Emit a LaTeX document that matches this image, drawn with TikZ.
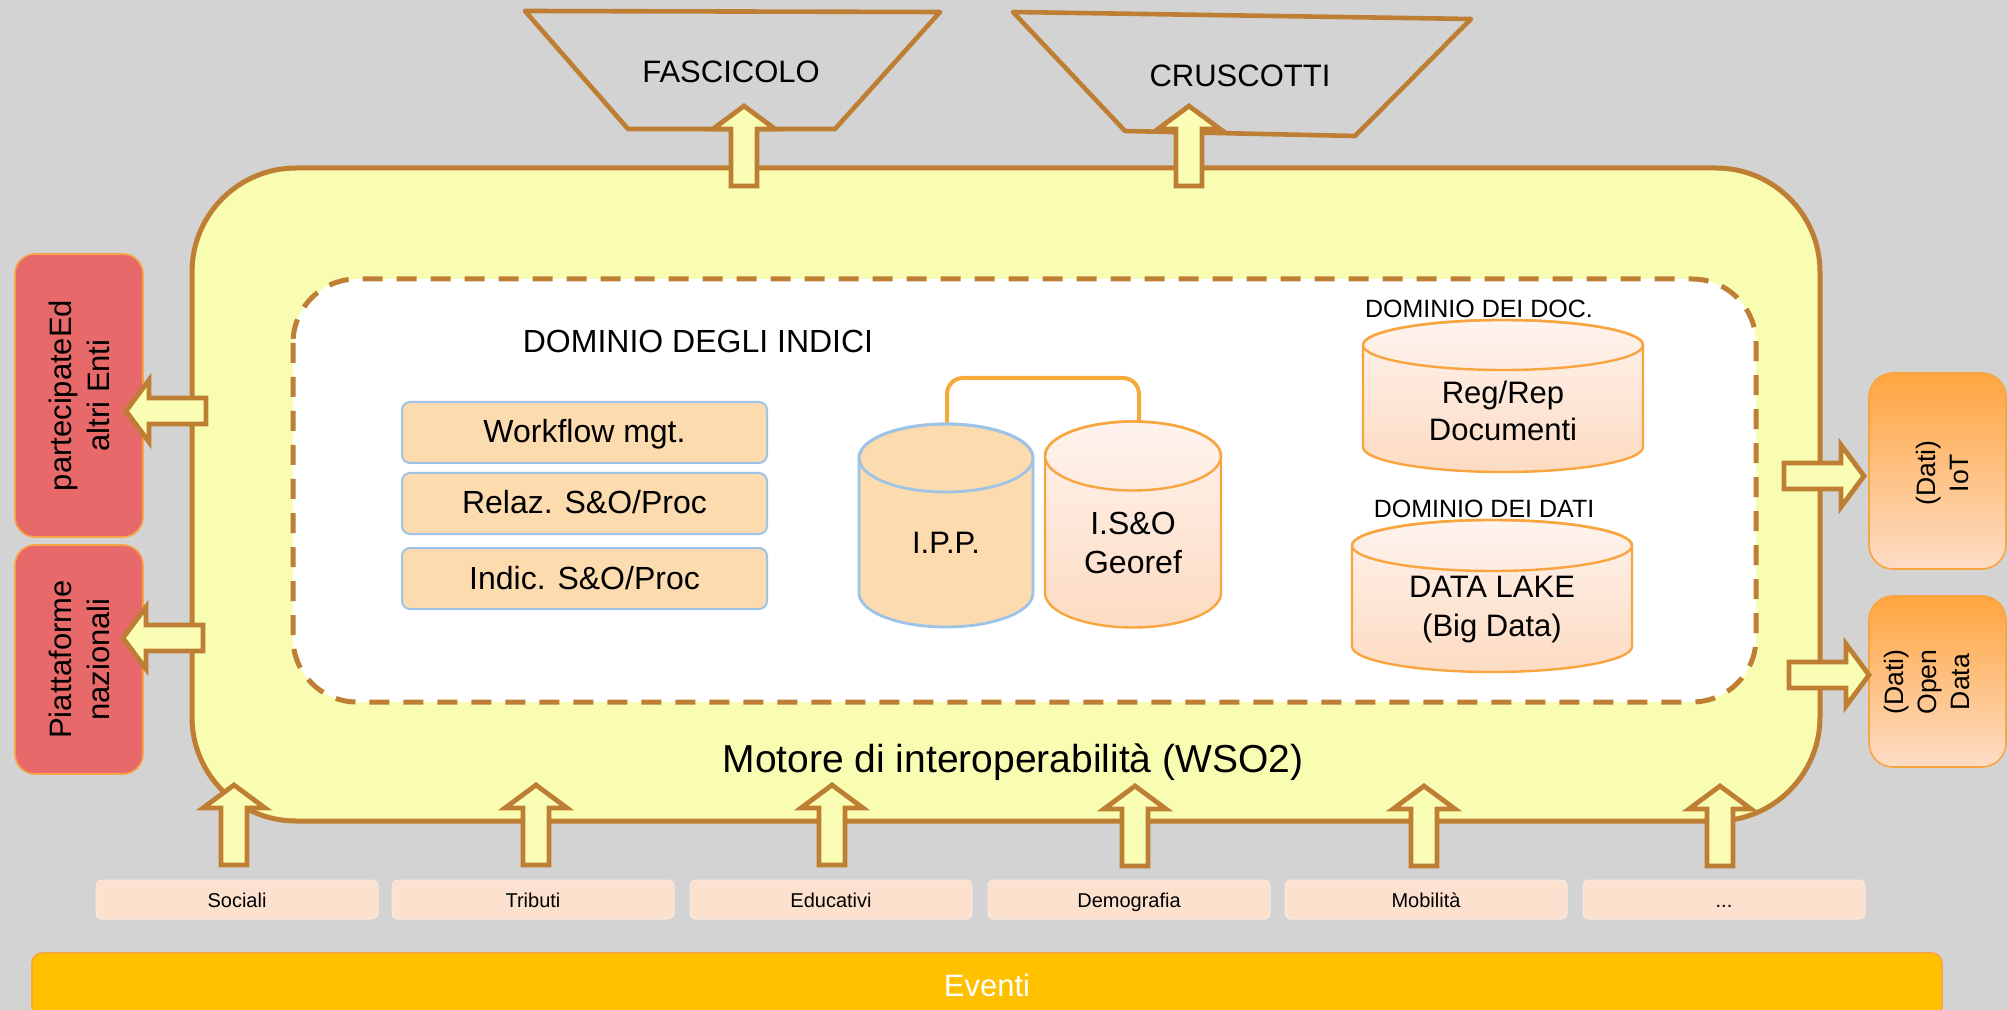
\documentclass[tikz,border=0pt]{standalone}
\usepackage{fontspec}
\setmainfont{Liberation Sans}
\definecolor{bgc}{HTML}{D3D3D3}
\definecolor{brn}{HTML}{BE7E33}
\definecolor{yel}{HTML}{F8FDB2}
\definecolor{arrfill}{HTML}{F9FEB4}
\definecolor{redc}{HTML}{E8696A}
\definecolor{redbord}{HTML}{F7A444}
\definecolor{peach}{HTML}{FCDBAE}
\definecolor{bluebord}{HTML}{9DC3E6}
\definecolor{cyltop}{HTML}{FEF3EE}
\definecolor{cylbot}{HTML}{FDDBC2}
\definecolor{orbord}{HTML}{F8A540}
\definecolor{rbtop}{HTML}{FFA53F}
\definecolor{rbbot}{HTML}{FDDDC6}
\definecolor{catc}{HTML}{FDE1CF}
\definecolor{catbord}{HTML}{FBEADF}
\definecolor{evc}{HTML}{FFC000}
\definecolor{evbord}{HTML}{F6A93A}
\definecolor{connc}{HTML}{F9A83C}
% cylinder silhouette: #1 style, #2 cx, #3 top y, #4 bottom y, #5 rx, #6 ry
\newcommand\mycylbody[6]{%
  \path[#1] ({#2-#5},#3) -- ({#2-#5},#4)
    .. controls ({#2-#5},{#4+0.5523*#6}) and ({#2-0.5523*#5},{#4+#6}) .. (#2,{#4+#6})
    .. controls ({#2+0.5523*#5},{#4+#6}) and ({#2+#5},{#4+0.5523*#6}) .. ({#2+#5},#4)
    -- ({#2+#5},#3)
    .. controls ({#2+#5},{#3-0.5523*#6}) and ({#2+0.5523*#5},{#3-#6}) .. (#2,{#3-#6})
    .. controls ({#2-0.5523*#5},{#3-#6}) and ({#2-#5},{#3-0.5523*#6}) .. ({#2-#5},#3) -- cycle;}
\begin{document}
\begin{tikzpicture}[x=0.5pt,y=-0.5pt,
  mainbox/.style={draw=brn, line width=2.5pt, fill=yel, rounded corners=52pt},
  dashbox/.style={draw=brn, line width=2.5pt, fill=white, rounded corners=32pt, dash pattern=on 10pt off 7pt},
  trap/.style={draw=brn, line width=2.3pt, line join=round},
  arrst/.style={draw=brn, fill=arrfill, line width=2.4pt, line join=miter},
  blk/.pic={\draw[arrst] (-13,0) -- (-13,-57) -- (-31,-57) -- (0,-80) -- (31,-57) -- (13,-57) -- (13,0) -- cycle;},
  idxbox/.style={draw=bluebord, line width=1pt, fill=peach, rounded corners=4pt, minimum width=182.5pt, minimum height=30.5pt, inner sep=0pt, text height=11.5pt, text depth=1pt, font=\fontsize{16}{19}\selectfont},
  redbox/.style={draw=redbord, line width=0.8pt, fill=redc, rounded corners=10pt, rotate=90, minimum height=64pt, inner sep=0pt, align=center, font=\fontsize{15.5}{19}\selectfont},
  outbox/.style={draw=orbord, line width=0.8pt, top color=rbtop, bottom color=rbbot, rounded corners=12pt, minimum width=68.5pt, inner sep=0pt},
  outtxt/.style={rotate=90, align=center, inner sep=0pt, font=\fontsize{13.3}{16.5}\selectfont},
  catbox/.style={draw=catbord, line width=0.5pt, fill=catc, rounded corners=3pt, minimum width=141pt, minimum height=19.5pt, inner sep=0pt, text height=8.5pt, text depth=1pt, font=\fontsize{10}{12}\selectfont},
  lbl/.style={inner sep=0pt, align=center},
  cylblue/.style={draw=bluebord, line width=1.4pt, fill=peach},
  cylor/.style={draw=orbord, line width=1.2pt, top color=cyltop, bottom color=cylbot},
  conn/.style={draw=connc, line width=2pt, rounded corners=8pt}
]
\useasboundingbox (0,0) rectangle (2008,1010);
\clip (0,0) rectangle (2008,1010);
\fill[bgc] (0,0) rectangle (2008,1010);

% top trapezoids
\draw[trap] (525,11) -- (940,12) -- (835,129) -- (628,129) -- cycle;
\draw[trap] (1013,12) -- (1471,19) -- (1355,136) -- (1125,131) -- cycle;
\node[lbl, font=\fontsize{15.5}{18}\selectfont] (fasc) at (731,72) {FASCICOLO};
\node[lbl, font=\fontsize{15.5}{18}\selectfont] (crus) at (1240,76) {CRUSCOTTI};

% main box
\draw[mainbox] (192,168) rectangle (1820,821);
\node[lbl, font=\fontsize{19.5}{23}\selectfont] (motore) at (1013,762) {Motore di interoperabilità (WSO2)};

% inner dashed domain
\draw[dashbox] (293,279) rectangle (1756,702);
\node[lbl, font=\fontsize{16}{19}\selectfont] (dind) at (698,341) {DOMINIO DEGLI INDICI};

% index boxes
\node[idxbox] (wf) at (584.5,432.5) {Workflow mgt.};
\node[idxbox] (rel) at (584.5,503.5) {Relaz. S\&O/Proc};
\node[idxbox] (ind) at (584.5,578.5) {Indic. S\&O/Proc};

% connector between cylinders
\coordinate (ipptop) at (947,424);
\coordinate (isotop) at (1139,422);
\coordinate (bridge) at (1040,378);
\draw[conn] (ipptop) |- (bridge) -| (isotop);

% IPP cylinder
\mycylbody{cylblue}{946}{458}{593}{87}{34}
\draw[bluebord, line width=1.4pt] (946,458) ellipse [x radius=87, y radius=34];
\node[lbl, font=\fontsize{15.5}{19}\selectfont] (ipp) at (946,543) {I.P.P.};

% I.S&O cylinder
\mycylbody{cylor}{1133}{456}{593}{88}{34.5}
\draw[orbord, line width=1.2pt] (1133,456) ellipse [x radius=88, y radius=34.5];
\node[lbl, font=\fontsize{16}{19.5}\selectfont] (iso) at (1133,543) {I.S\&O\\Georef};

% documents domain
\node[lbl, font=\fontsize{12.5}{15}\selectfont] (ddoc) at (1479,309) {DOMINIO DEI DOC.};
\mycylbody{cylor}{1503}{345}{447}{140}{25}
\draw[orbord, line width=1.2pt] (1503,345) ellipse [x radius=140, y radius=25];
\node[lbl, font=\fontsize{15.5}{18.5}\selectfont] (regrep) at (1503,411) {Reg/Rep\\Documenti};

% data domain
\node[lbl, font=\fontsize{12.5}{15}\selectfont] (ddati) at (1484,509) {DOMINIO DEI DATI};
\mycylbody{cylor}{1492}{545.5}{646.5}{140}{25.5}
\draw[orbord, line width=1.2pt] (1492,545.5) ellipse [x radius=140, y radius=25.5];
\node[lbl, font=\fontsize{15.5}{19.5}\selectfont] (lake) at (1492,610) {DATA LAKE\\(Big Data)};

% left red boxes
\node[redbox, minimum width=141.5pt] (part) at (79,395.5) {partecipateEd\\altri Enti};
\node[redbox, minimum width=114.5pt] (piatt) at (79,659.5) {Piattaforme\\nazionali};

% right output boxes
\node[outbox, minimum height=98pt] (iot) at (1937.5,471) {};
\node[outtxt] (iott) at (1942,473) {(Dati)\\IoT};
\node[outbox, minimum height=85.5pt] (open) at (1937.5,681.5) {};
\node[outtxt] (opent) at (1927,682) {(Dati)\\Open\\Data};

% category boxes
\node[catbox] (c1) at (237,899.5) {Sociali};
\node[catbox] (c2) at (533,899.5) {Tributi};
\node[catbox] (c3) at (831,899.5) {Educativi};
\node[catbox] (c4) at (1129,899.5) {Demografia};
\node[catbox] (c5) at (1426,899.5) {Mobilità};
\node[catbox] (c6) at (1724,899.5) {...};

% Eventi bar
\node[draw=evbord, line width=0.8pt, fill=evc, rounded corners=5pt, minimum width=955pt, minimum height=32pt, inner sep=0pt, text=white, font=\fontsize{15.5}{18}\selectfont] (ev) at (987,985) {Eventi};

% block arrows
\pic at (744,186) {blk};
\pic at (1189,186) {blk};
\pic at (234,865) {blk};
\pic at (536,865) {blk};
\pic at (832,865) {blk};
\pic at (1135,866) {blk};
\pic at (1424,866) {blk};
\pic at (1720,866) {blk};
\pic[rotate=90] at (206,411) {blk};
\pic[rotate=90] at (203,638) {blk};
\pic[rotate=-90] at (1784,476) {blk};
\pic[rotate=-90] at (1789,675) {blk};
\end{tikzpicture}
\end{document}
